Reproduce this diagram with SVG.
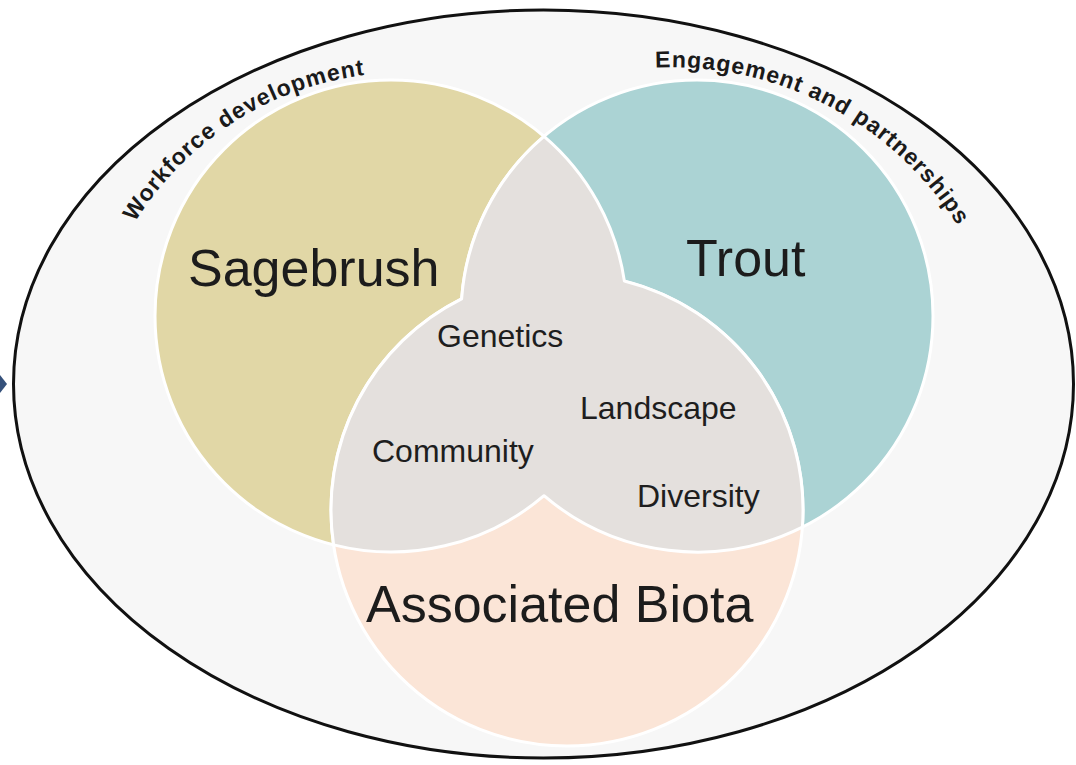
<svg xmlns="http://www.w3.org/2000/svg" width="1076" height="765" viewBox="0 0 1076 765">
  <style>
    .big { font-family: "Liberation Sans", Arial, sans-serif; font-size: 52px; fill: #1c1c1c; }
    .small { font-family: "Liberation Sans", Arial, sans-serif; font-size: 32px; fill: #1e1e1e; }
    .arc { font-family: "Liberation Sans", Arial, sans-serif; font-size: 23px; font-weight: bold; letter-spacing: 1px; fill: #1a1a1a; }
    .circ { stroke: #ffffff; stroke-width: 3; }
  </style>
  <defs>
    <path id="arcWork" d="M 135 222.4 A 316.7 316.7 0 0 1 431.8 73.8" fill="none"/>
    <path id="arcEng" d="M 655.3 67.7 A 338 338 0 0 1 977.5 262.4" fill="none"/>
  </defs>
  <rect x="0" y="0" width="1076" height="765" fill="#ffffff"/>
  <g id="outer">
    <ellipse cx="543.5" cy="384" rx="530" ry="374" fill="#f7f7f7" stroke="#111111" stroke-width="3"/>
    <text class="arc"><textPath href="#arcWork">Workforce development</textPath></text>
    <text class="arc"><textPath href="#arcEng">Engagement and partnerships</textPath></text>
  </g>
  <g id="marker-left">
    <polygon points="0,375 7,384 0,393" fill="#34507a"/>
  </g>
  <g id="sagebrush">
    <circle class="circ" cx="391" cy="316" r="236" fill="#e1d7a6"/>
  </g>
  <g id="trout">
    <circle class="circ" cx="697" cy="316" r="236" fill="#abd3d4"/>
  </g>
  <g id="biota">
    <circle class="circ" cx="567" cy="510" r="236" fill="#fbe5d7"/>
  </g>
  <g id="overlap">
    <path d="M 544 136.3 A 236 236 0 0 1 624.4 281.1 A 236 236 0 0 1 802.4 527.2 A 236 236 0 0 1 544 495.7 A 236 236 0 0 1 333.6 544.9 A 236 236 0 0 1 461.6 298.8 A 236 236 0 0 1 544 136.3 Z" fill="#e4e0dd" stroke="#ffffff" stroke-width="3" stroke-linejoin="round"/>
  </g>
  <g id="labels">
    <text class="big" x="188" y="286">Sagebrush</text>
    <text class="big" x="686" y="276">Trout</text>
    <text class="big" x="366" y="622">Associated Biota</text>
    <text class="small" x="437" y="347">Genetics</text>
    <text class="small" x="580" y="419">Landscape</text>
    <text class="small" x="372" y="462">Community</text>
    <text class="small" x="637" y="507">Diversity</text>
  </g>
  <g id="connectors"/>
</svg>
